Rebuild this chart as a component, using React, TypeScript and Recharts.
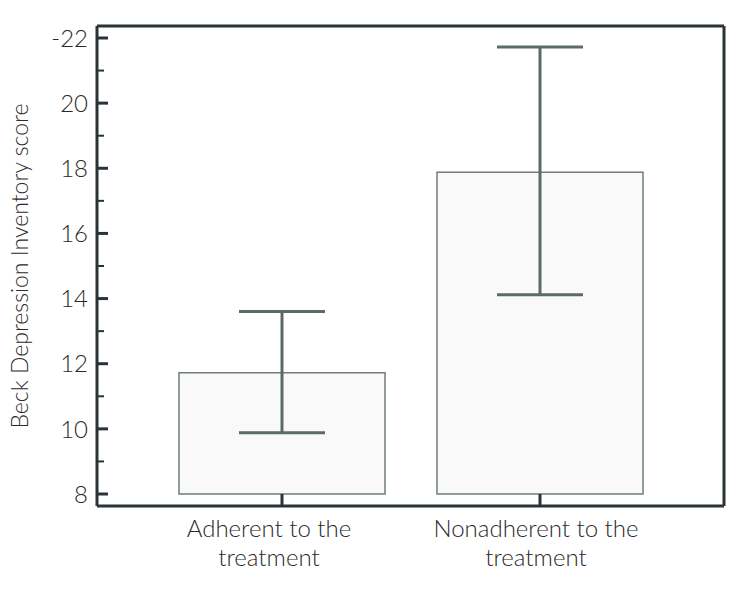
import React from "react";
import { Bar, ComposedChart, ErrorBar, Label, Line, XAxis, YAxis } from "recharts";

const groups = ["Adherent to the|treatment", "Nonadherent to the|treatment"];
const meanScores = [11.72, 17.88];
const errorRanges: Array<[number, number]> = [
  [1.84, 1.88],
  [3.76, 3.84]
];
const scaleStart = 8;
const yTicks = [8, 9, 10, 11, 12, 13, 14, 15, 16, 17, 18, 19, 20, 21, 22];

const AXIS = "#2a3336";
const BAR_STROKE = "#6f7d7d";
const ERR = "#5a6a6a";
const FONT = "Lato, 'Open Sans', sans-serif";
const TEXT = "#2a2a2a";
// the source's category labels sit a little left of their ticks
const LABEL_SHIFT = [-13, -4];

const data = groups.map((group, i) => ({
  group,
  box: [scaleStart, meanScores[i]],
  score: meanScores[i],
  err: errorRanges[i]
}));

function YTick({ x, y, payload }: any) {
  const v = payload.value as number;
  const major = v % 2 === 0;
  return (
    <g>
      <line x1={x} x2={x + (major ? 11 : 7)} y1={y} y2={y} stroke={AXIS} strokeWidth={major ? 3 : 2} />
      {major && (
        <text x={x - 9} y={y} dy="0.36em" textAnchor="end" fontFamily={FONT} fontWeight={300} fontSize={24} fill={TEXT}>
          {v === 22 ? "-22" : v}
        </text>
      )}
    </g>
  );
}

function XTick({ x, y, payload, index }: any) {
  const lines = String(payload.value).split("|");
  const tx = x + (LABEL_SHIFT[index] ?? 0);
  return (
    <g>
      <line x1={x} x2={x} y1={y} y2={y - 12} stroke={AXIS} strokeWidth={3} />
      {lines.map((line, i) => (
        <text key={i} x={tx} y={y + 31 + i * 29} textAnchor="middle" fontFamily={FONT} fontWeight={300} fontSize={24} fill={TEXT}>
          {line}
        </text>
      ))}
    </g>
  );
}

function YLabel({ viewBox }: any) {
  const cx = viewBox.x + 20;
  const cy = viewBox.y + viewBox.height / 2;
  return (
    <text x={cx} y={cy} dy="0.35em" textAnchor="middle" transform={`rotate(-90 ${cx} ${cy})`} fontFamily={FONT} fontWeight={300} fontSize={23} fill={TEXT}>
      Beck Depression Inventory score
    </text>
  );
}

export default function App() {
  return (
    <div style={{ position: "absolute", left: 0, top: 0, background: "#fff" }}>
      <ComposedChart width={738} height={601} data={data} margin={{ top: 25, right: 13, bottom: 0, left: 0 }}>
        <XAxis
          dataKey="group"
          height={95}
          padding={{ left: 56, right: 55 }}
          axisLine={{ stroke: AXIS, strokeWidth: 3 }}
          tickLine={false}
          tickSize={0}
          tickMargin={0}
          tick={<XTick />}
          interval={0}
        />
        <XAxis xAxisId="top" orientation="top" dataKey="group" height={1} tick={false} tickLine={false} axisLine={{ stroke: AXIS, strokeWidth: 3 }} />
        <YAxis
          width={97}
          type="number"
          domain={[7.632, 22.368]}
          allowDataOverflow
          ticks={yTicks}
          interval={0}
          axisLine={{ stroke: AXIS, strokeWidth: 3 }}
          tickLine={false}
          tickSize={0}
          tickMargin={0}
          tick={<YTick />}
        >
          <Label content={<YLabel />} />
        </YAxis>
        <YAxis yAxisId="right" orientation="right" width={1} tick={false} tickLine={false} axisLine={{ stroke: AXIS, strokeWidth: 3 }} />
        <Bar dataKey="box" barSize={206} fill="#f9f9f9" stroke={BAR_STROKE} strokeWidth={1.5} isAnimationActive={false} />
        <Line dataKey="score" stroke="none" dot={false} activeDot={false} isAnimationActive={false}>
          <ErrorBar dataKey="err" width={43} stroke={ERR} strokeWidth={3} isAnimationActive={false} />
        </Line>
      </ComposedChart>
    </div>
  );
}
